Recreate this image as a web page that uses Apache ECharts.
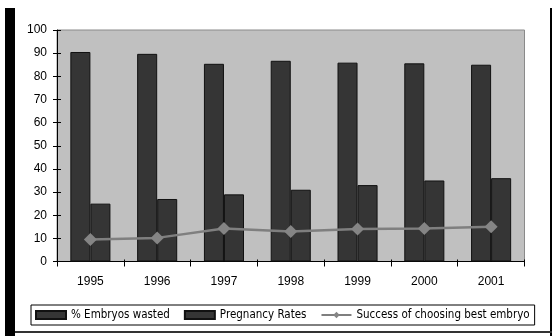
<!DOCTYPE html>
<html>
<head>
<meta charset="utf-8">
<script src="https://cdn.jsdelivr.net/npm/echarts@6/dist/echarts.min.js"></script>
<style>
  html, body { margin: 0; padding: 0; background: #fff; }
  #chart { width: 553px; height: 336px; }
</style>
</head>
<body>
<div id="chart"></div>
<script>
// Yearly embryo figures
const years = ['1995', '1996', '1997', '1998', '1999', '2000', '2001'];
const embryosWasted = [90.5, 89.7, 85.4, 86.7, 85.9, 85.6, 85];
const pregnancyRates = [25, 27, 29, 31, 33, 35, 36];
const bestEmbryoSuccess = [9.5, 10.2, 14.3, 13, 14, 14.3, 15];
const yTicks = { min: 0, max: 100, interval: 10 };

const chart = echarts.init(document.getElementById('chart'), null, { renderer: 'canvas' });

const axisFont = { fontFamily: 'Liberation Sans, Arial, sans-serif', fontSize: 12, color: '#000' };
const legendFont = { fontFamily: 'DejaVu Sans Condensed, sans-serif', fontSize: 11.5, color: '#000' };

const barStyle = { color: '#353535', borderColor: '#111', borderWidth: 1 };

chart.setOption({
  animation: false,
  backgroundColor: '#fff',
  grid: { left: 57, right: 28.5, top: 30, bottom: 74.5, show: true, backgroundColor: '#c0c0c0', borderColor: '#8a8a8a', borderWidth: 1 },
  xAxis: [
    {
      type: 'category', data: years, position: 'bottom',
      axisLine: { lineStyle: { color: '#000', width: 1 } },
      axisTick: { show: true, length: 5, lineStyle: { color: '#000' } },
      axisLabel: Object.assign({ margin: 14 }, axisFont)
    },
    {
      type: 'category', data: years, position: 'bottom',
      axisLine: { show: false },
      axisTick: { show: true, inside: true, length: 2, lineStyle: { color: '#000' } },
      axisLabel: { show: false }
    }
  ],
  yAxis: [
    {
      type: 'value', min: yTicks.min, max: yTicks.max, interval: yTicks.interval,
      axisLine: { show: true, lineStyle: { color: '#000', width: 1 } },
      axisTick: { show: true, length: 4, lineStyle: { color: '#000' } },
      axisLabel: Object.assign({ margin: 10 }, axisFont),
      splitLine: { show: false }
    },
    {
      type: 'value', min: yTicks.min, max: yTicks.max, interval: yTicks.interval, position: 'left',
      axisLine: { show: false },
      axisTick: { show: true, inside: true, length: 4, lineStyle: { color: '#000' } },
      axisLabel: { show: false },
      splitLine: { show: false }
    }
  ],
  legend: {
    left: 31, top: 305,
    orient: 'horizontal',
    backgroundColor: '#fff',
    borderColor: '#000', borderWidth: 1,
    padding: [4, 5, 4, 4],
    itemGap: 14, itemWidth: 30, itemHeight: 8,
    textStyle: legendFont,
    data: [
      { name: '% Embryos wasted', icon: 'rect' },
      { name: 'Pregnancy Rates', icon: 'rect' },
      { name: 'Success of choosing best embryo' }
    ]
  },
  series: [
    {
      name: '% Embryos wasted', type: 'bar', data: embryosWasted,
      barGap: '0%', barCategoryGap: '40%',
      itemStyle: barStyle
    },
    {
      name: 'Pregnancy Rates', type: 'bar', data: pregnancyRates,
      barGap: '0%', barCategoryGap: '40%',
      itemStyle: barStyle
    },
    {
      name: 'Success of choosing best embryo', type: 'line', data: bestEmbryoSuccess,
      symbol: 'diamond', symbolSize: 13,
      lineStyle: { color: '#7f7f7f', width: 2.5 },
      itemStyle: { color: '#858585' },
      z: 5
    }
  ],
  graphic: [
    { type: 'rect', shape: { x: 5, y: 8, width: 10, height: 328 }, style: { fill: '#000' } },
    { type: 'rect', shape: { x: 550, y: 8, width: 2, height: 328 }, style: { fill: '#000' } },
    { type: 'rect', shape: { x: 15, y: 331, width: 537, height: 2 }, style: { fill: '#333' } }
  ]
});
</script>
</body>
</html>
